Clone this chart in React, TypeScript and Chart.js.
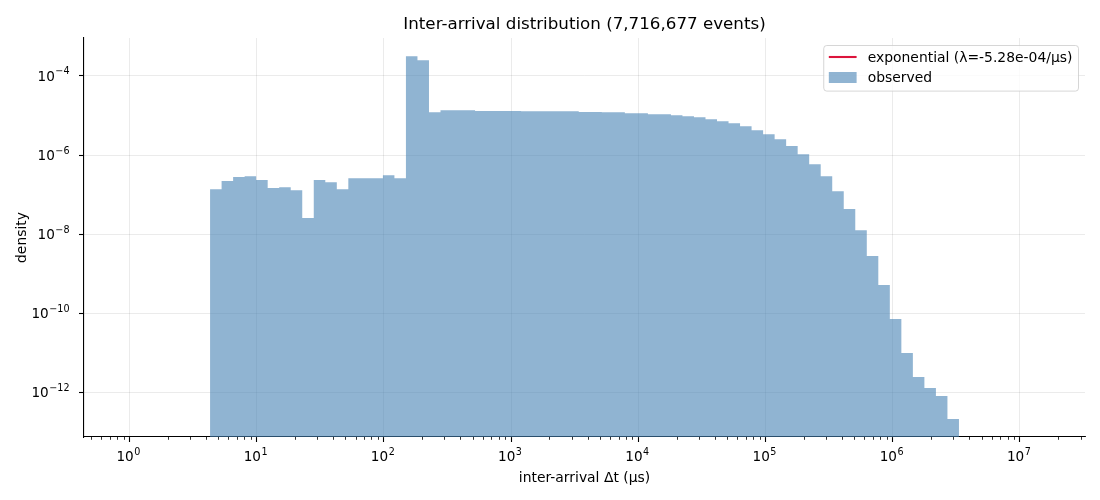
import { useEffect, useRef } from 'react'
import { Chart, registerables, type ChartConfiguration, type Plugin } from 'chart.js'

Chart.register(...registerables)

// inter-arrival histogram, log-binned, density on log scale

const TITLE = 'Inter-arrival distribution (7,716,677 events)'
const X_LABEL = 'inter-arrival \u0394t (\u03bcs)'
const Y_LABEL = 'density'
const EXP_LABEL = 'exponential (\u03bb=-5.28e-04/\u03bcs)'
const OBS_LABEL = 'observed'

// histogram bins: first / last edge in μs, 65 log-spaced bins
const BIN_FIRST_EDGE = 4.31
const BIN_LAST_EDGE = 3.32e6

const DENSITY = [
  1.37e-7, 2.19e-7, 2.76e-7, 2.92e-7, 2.32e-7, 1.46e-7, 1.54e-7, 1.29e-7, 2.54e-8,
  2.32e-7, 2.06e-7, 1.37e-7, 2.60e-7, 2.60e-7, 2.60e-7, 3.10e-7, 2.60e-7,
  3.15e-4, 2.49e-4,
  1.21e-5, 1.36e-5, 1.36e-5, 1.36e-5,
  1.30e-5, 1.29e-5, 1.29e-5, 1.29e-5, 1.28e-5, 1.28e-5, 1.28e-5, 1.28e-5, 1.27e-5,
  1.23e-5, 1.22e-5, 1.21e-5, 1.20e-5,
  1.14e-5, 1.13e-5, 1.08e-5, 1.07e-5,
  1.02e-5, 9.6e-6, 9.05e-6, 8.05e-6, 7.18e-6, 6.38e-6, 5.36e-6, 4.25e-6, 3.37e-6,
  2.52e-6, 1.68e-6, 1.05e-6, 5.88e-7, 2.92e-7, 1.22e-7, 4.29e-8, 1.26e-8, 2.78e-9,
  5.15e-10, 7.13e-11, 9.86e-12, 2.44e-12, 1.29e-12, 8.1e-13, 2.12e-13,
]

const X_TICKS = [1e0, 1e1, 1e2, 1e3, 1e4, 1e5, 1e6, 1e7]
const Y_TICKS = [1e-12, 1e-10, 1e-8, 1e-6, 1e-4]
const X_MIN = 0.44
const X_MAX = 3.25e7
const Y_MIN = 7.4e-14
const Y_MAX = 9.1e-4

const FONT = 'DejaVu Sans'
const FILL = 'rgba(70, 130, 180, 0.6)'
const RED = 'crimson'

function binEdge(i: number): number {
  const a = Math.log10(BIN_FIRST_EDGE)
  const b = Math.log10(BIN_LAST_EDGE)
  return Math.pow(10, a + (b - a) * i / DENSITY.length)
}

// "10" with a raised exponent, like matplotlib mathtext
function drawPow10(ctx: CanvasRenderingContext2D, v: number, x: number, baseline: number, align: 'center' | 'right') {
  const exp = String(Math.round(Math.log10(v))).replace('-', '\u2212')
  const base = `13.6px "${FONT}"`
  const sup = `9.6px "${FONT}"`
  ctx.font = base
  const wb = ctx.measureText('10').width
  ctx.font = sup
  const we = ctx.measureText(exp).width
  const total = wb + we + 0.5
  const x0 = align === 'center' ? x - total / 2 - 1 : x - total
  ctx.textAlign = 'left'
  ctx.textBaseline = 'alphabetic'
  ctx.font = base
  ctx.fillText('10', x0, baseline)
  ctx.font = sup
  ctx.fillText(exp, x0 + wb + 0.5, baseline - 6.5)
}

const decor: Plugin<'line'> = {
  id: 'mplDecor',
  afterDraw(chart) {
    const { ctx, chartArea: ca } = chart
    const xs = chart.scales.x
    const ys = chart.scales.y
    ctx.save()

    // minor x ticks
    ctx.strokeStyle = '#000'
    ctx.lineWidth = 0.8
    for (let k = -1; k <= 7; k++) {
      for (let m = 2; m <= 9; m++) {
        const v = m * Math.pow(10, k)
        if (v < X_MIN || v > X_MAX) continue
        const px = Math.round(xs.getPixelForValue(v)) + 0.5
        ctx.beginPath()
        ctx.moveTo(px, ca.bottom)
        ctx.lineTo(px, ca.bottom + 2.8)
        ctx.stroke()
      }
    }

    // tick labels
    ctx.fillStyle = '#000'
    for (const v of X_TICKS) drawPow10(ctx, v, xs.getPixelForValue(v), ca.bottom + 24, 'center')
    for (const v of Y_TICKS) drawPow10(ctx, v, ca.left - 14.5, ys.getPixelForValue(v) + 5, 'right')

    // title
    ctx.font = `16.7px "${FONT}"`
    ctx.textAlign = 'center'
    ctx.textBaseline = 'alphabetic'
    ctx.fillText(TITLE, (ca.left + ca.right) / 2, ca.top - 9)

    // legend, upper right
    const fs = 13.9
    ctx.font = `${fs}px "${FONT}"`
    const labels = [EXP_LABEL, OBS_LABEL]
    const tw = Math.max(...labels.map(l => ctx.measureText(l).width))
    const pad = 0.4 * fs
    const handle = 2 * fs
    const gap = 0.8 * fs
    const w = pad + handle + gap + tw + pad
    const h = 45.6
    const right = ca.right - 7
    const left = right - w
    const top = ca.top + 7
    ctx.beginPath()
    ctx.roundRect(left + 0.5, top + 0.5, w, h, 3)
    ctx.fillStyle = 'rgba(255,255,255,0.8)'
    ctx.fill()
    ctx.strokeStyle = 'rgba(204,204,204,0.8)'
    ctx.lineWidth = 1
    ctx.stroke()

    const row1 = top + 12
    const row2 = top + 32.5
    ctx.strokeStyle = RED
    ctx.lineWidth = 2.1
    ctx.beginPath()
    ctx.moveTo(left + pad, row1)
    ctx.lineTo(left + pad + handle, row1)
    ctx.stroke()
    ctx.fillStyle = FILL
    ctx.fillRect(left + pad, row2 - 5.5, handle, 11)

    ctx.fillStyle = '#000'
    ctx.textAlign = 'left'
    ctx.textBaseline = 'middle'
    ctx.fillText(EXP_LABEL, left + pad + handle + gap, row1 + 1)
    ctx.fillText(OBS_LABEL, left + pad + handle + gap, row2 + 1)
    ctx.restore()
  },
}

export default function App() {
  const canvasRef = useRef<HTMLCanvasElement>(null)
  const chartRef = useRef<Chart<'line'> | null>(null)

  useEffect(() => {
    if (!canvasRef.current) return
    if (chartRef.current) { chartRef.current.destroy(); chartRef.current = null }

    const pts = DENSITY.map((d, i) => ({ x: binEdge(i), y: d }))
    pts.push({ x: binEdge(DENSITY.length), y: DENSITY[DENSITY.length - 1] })

    const labelFont = { family: FONT, size: 13.9 }
    const grid = {
      color: 'rgba(0,0,0,0.1)',
      lineWidth: 0.8,
      tickColor: '#000',
      tickLength: 5,
      tickWidth: 1.1,
    }

    const config: ChartConfiguration<'line'> = {
      type: 'line',
      data: {
        datasets: [
          {
            label: OBS_LABEL,
            data: pts,
            stepped: true,
            fill: 'start',
            backgroundColor: FILL,
            borderColor: 'rgba(0,0,0,0)',
            borderWidth: 0,
            pointRadius: 0,
          },
          {
            label: EXP_LABEL,
            data: [],
            borderColor: RED,
            borderWidth: 2,
            pointRadius: 0,
          },
        ],
      },
      options: {
        responsive: true,
        maintainAspectRatio: false,
        animation: false,
        events: [],
        layout: { padding: { top: 38, right: 15, bottom: 0, left: 0 } },
        scales: {
          x: {
            type: 'logarithmic',
            min: X_MIN,
            max: X_MAX,
            afterBuildTicks: (s: any) => { s.ticks = X_TICKS.map(v => ({ value: v })) },
            afterFit: (s: any) => { s.height = 63 },
            ticks: { display: false, autoSkip: false, maxRotation: 0 },
            grid,
            border: { color: '#000', width: 1.1 },
            title: {
              display: true,
              text: X_LABEL,
              color: '#000',
              font: labelFont,
              padding: { top: 0, bottom: 13 },
            },
          },
          y: {
            type: 'logarithmic',
            min: Y_MIN,
            max: Y_MAX,
            afterBuildTicks: (s: any) => { s.ticks = Y_TICKS.map(v => ({ value: v })) },
            afterFit: (s: any) => { s.width = 84 },
            ticks: { display: false, autoSkip: false },
            grid,
            border: { color: '#000', width: 1.1 },
            title: {
              display: true,
              text: Y_LABEL,
              color: '#000',
              font: labelFont,
              padding: { top: 14, bottom: 0 },
            },
          },
        },
        plugins: {
          legend: { display: false },
          title: { display: false },
          tooltip: { enabled: false },
        },
      },
      plugins: [decor],
    }
    chartRef.current = new Chart(canvasRef.current, config)
    return () => { chartRef.current?.destroy(); chartRef.current = null }
  }, [])

  return (
    <div style={{ position: 'absolute', left: 0, top: 0, width: 1100, height: 500, background: '#fff' }}>
      <canvas ref={canvasRef} />
    </div>
  )
}
